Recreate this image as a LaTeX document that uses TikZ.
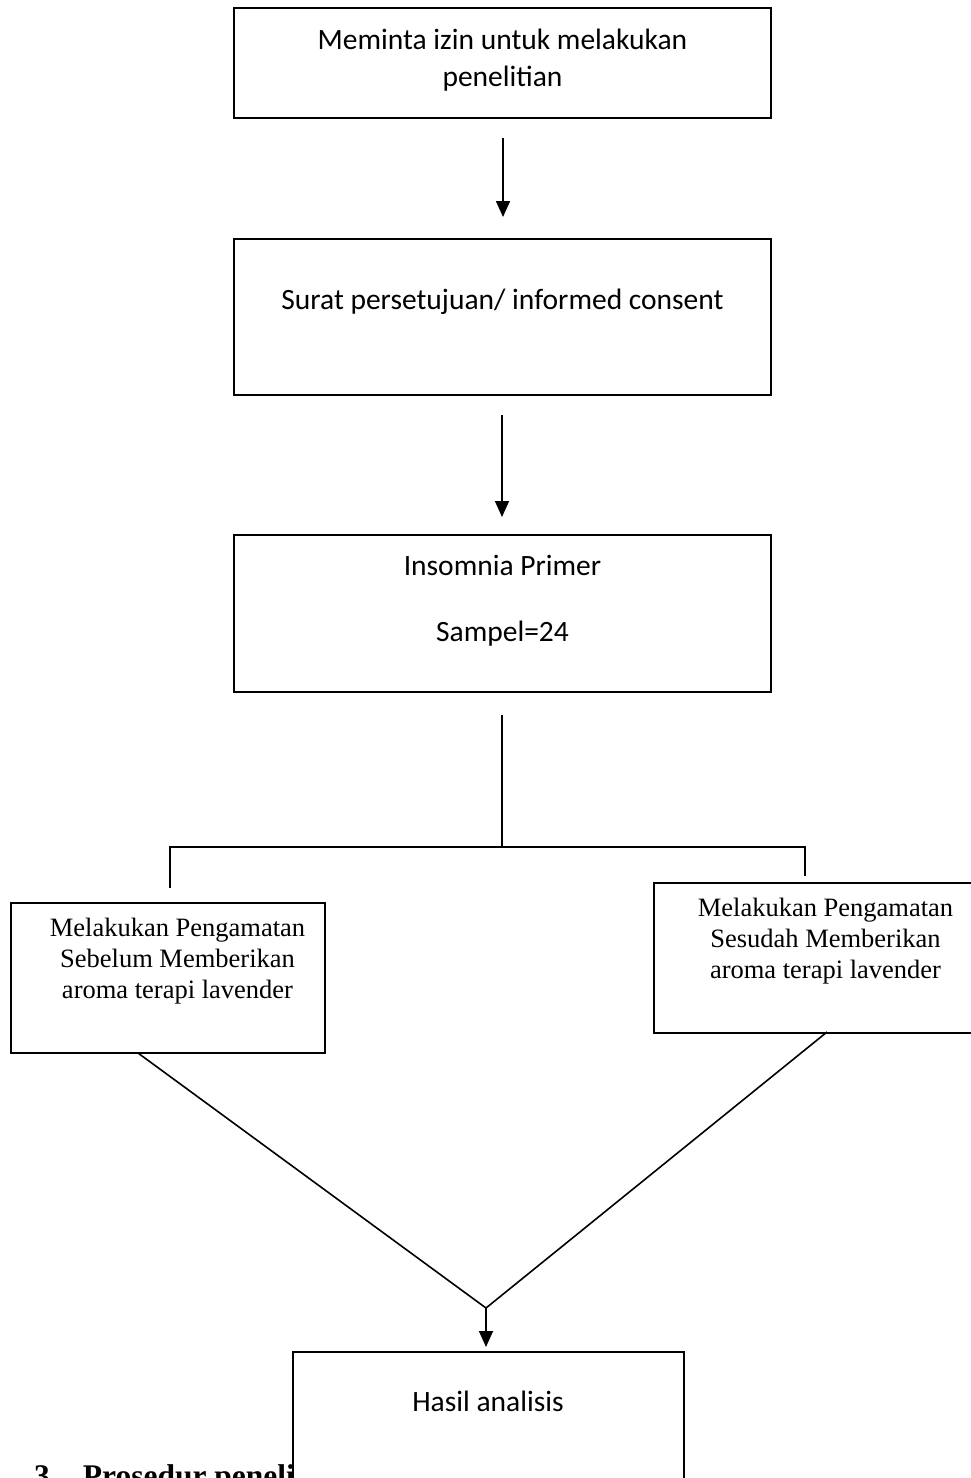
\documentclass[tikz,border=0pt]{standalone}
\usepackage{fontspec}
\setmainfont{Liberation Serif}
\newfontfamily\calib{Carlito}
\usetikzlibrary{arrows.meta,calc}
\tikzset{
  box/.style={draw=black,line width=2.2pt,fill=white,rectangle,inner sep=0pt},
  conn/.style={draw=black,line width=1.6pt},
  arr/.style={conn,-{Triangle[length=16pt,width=14pt]}},
  sanstext/.style={font=\calib\fontsize{29.5}{40}\selectfont,inner sep=0pt,align=center,anchor=center},
  seriftext/.style={font=\fontsize{26.5}{31}\selectfont,inner sep=0pt,align=center,anchor=center},
}
\begin{document}
\begin{tikzpicture}[x=1pt,y=-1pt]
\useasboundingbox (0,0) rectangle (971,1478);
\clip (0,0) rectangle (971,1478);
\fill[white] (0,0) rectangle (971,1478);

% boxes
\node[box,minimum width=537pt,minimum height=110pt] (b1) at (502.5,63) {};
\node[box,minimum width=537pt,minimum height=156pt] (b2) at (502.5,317) {};
\node[box,minimum width=537pt,minimum height=157pt] (b3) at (502.5,613.5) {};
\node[box,minimum width=314pt,minimum height=150pt] (bl) at (168,978) {};
\node[box,minimum width=340pt,minimum height=150pt,anchor=north west] (br) at (653,882) {};

% texts
\node[sanstext] (t1a) at (502.5,39) {Meminta izin untuk melakukan};
\node[sanstext] (t1b) at (502.5,79) {penelitian};
\node[sanstext] (t2) at (502.5,302) {Surat persetujuan/ informed consent};
\node[sanstext] (t3a) at (502.5,565) {Insomnia Primer};
\node[sanstext] (t3b) at (502.5,634) {Sampel=24};
\node[seriftext] (tl) at (177.5,961) {Melakukan Pengamatan\\Sebelum Memberikan\\aroma terapi lavender};
\node[seriftext] (tr) at (825.5,941) {Melakukan Pengamatan\\Sesudah Memberikan\\aroma terapi lavender};

% heading (partly covered by the last box)
\node[font=\bfseries\fontsize{31.5}{34}\selectfont,anchor=base west,inner sep=0pt] (h) at (34,1486) {3\hspace{33pt}Prosedur penelitian};

% connector coordinates
\coordinate (a1s) at (503,138);
\coordinate (a1e) at (503,217);
\coordinate (a2s) at (502,415);
\coordinate (a2e) at (502,517);
\coordinate (v1) at (502,715);
\coordinate (v2) at (502,847);
\coordinate (hl) at (170,847);
\coordinate (hr) at (805,847);
\coordinate (dl) at (170,888);
\coordinate (dr) at (805,876);
\coordinate (ls) at (138,1053);
\coordinate (rs) at (827,1032);
\coordinate (j) at (486,1308);
\coordinate (je) at (486,1347);

\draw[arr] (a1s) -- (a1e);
\draw[arr] (a2s) -- (a2e);
\draw[conn] (v1) -- (v2);
\draw[conn] (dl) -- (hl) -- (hr) -- (dr);
\draw[conn] (ls) -- (j) -- (rs);
\draw[arr] (j) -- (je);

% last box
\node[box,minimum width=391pt,minimum height=220pt,anchor=north west] (b4) at (292,1351) {};
\node[sanstext] (t4) at (488,1401) {Hasil analisis};
\end{tikzpicture}
\end{document}
